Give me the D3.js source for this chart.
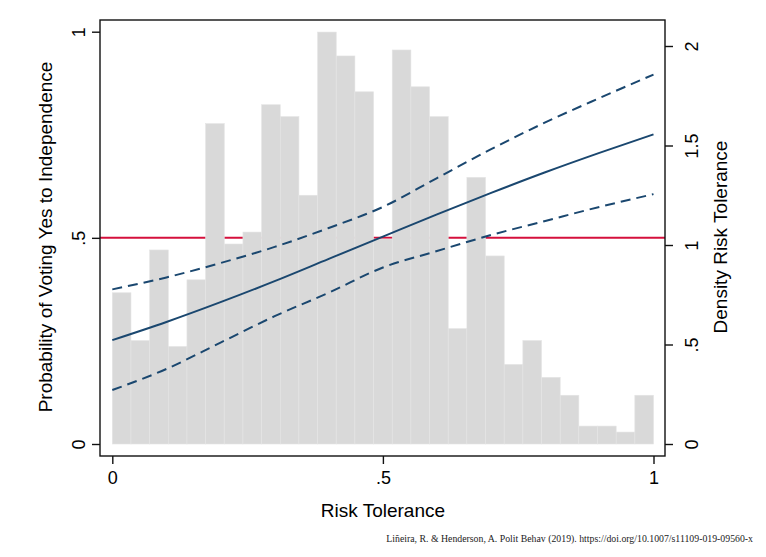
<!DOCTYPE html>
<html>
<head>
<meta charset="utf-8">
<script src="https://cdn.jsdelivr.net/npm/d3@7"></script>
<style>
  body { margin: 0; background: #fff; }
  svg { display: block; font-family: "Liberation Sans", Arial, sans-serif; }
</style>
</head>
<body>
<svg id="chart" width="766" height="557"></svg>
<script>
// histogram of risk tolerance (29 bins on 0..1), density
const density = [0.76, 0.52, 0.975, 0.49, 0.825, 1.61, 1.005, 1.065, 1.705, 1.645,
  1.25, 2.07, 1.95, 1.77, 1.03, 1.98, 1.795, 1.645, 0.58, 1.34,
  0.945, 0.40, 0.52, 0.335, 0.245, 0.09, 0.09, 0.06, 0.245];

// predicted probability with 95% CI
const riskX = [0, 0.1, 0.2, 0.3, 0.4, 0.5, 0.6, 0.7, 0.8, 0.9, 1];
const probFit = [0.252, 0.296, 0.344, 0.395, 0.449, 0.503, 0.557, 0.609, 0.659, 0.706, 0.751];
const probUpper = [0.375, 0.404, 0.439, 0.478, 0.524, 0.575, 0.645, 0.715, 0.780, 0.839, 0.896];
const probLower = [0.131, 0.182, 0.246, 0.310, 0.367, 0.428, 0.468, 0.507, 0.541, 0.575, 0.606];

const xTicks = [0, 0.5, 1];
const probTicks = [0, 0.5, 1];
const densTicks = [0, 0.5, 1, 1.5, 2];
const fmt = d => d === 0 ? "0" : (d < 1 ? String(d).replace("0.", ".") : String(d));

const svg = document.querySelector("#chart");
const g = d3.select(svg);

const x = d3.scaleLinear().domain([0, 1]).range([112.3, 653.5]);
const yProb = d3.scaleLinear().domain([0, 1]).range([444, 31.7]);
const yDens = d3.scaleLinear().domain([0, 2]).range([444, 46]);

const navy = "#1a476f";

// 0.5 reference line
g.append("line").attr("x1", 100).attr("x2", 665)
  .attr("y1", yProb(0.5)).attr("y2", yProb(0.5))
  .attr("stroke", "#d5103c").attr("stroke-width", 2);

// histogram
const nBins = density.length;
g.append("g").selectAll("rect").data(density).join("rect")
  .attr("x", (d, i) => x(i / nBins))
  .attr("width", (d, i) => x((i + 1) / nBins) - x(i / nBins))
  .attr("y", d => yDens(d))
  .attr("height", d => yDens(0) - yDens(d))
  .attr("fill", "#d9d9d9")
  .attr("stroke", "#e4e4e4").attr("stroke-width", 0.6);

// fitted line and CI
const line = d3.line().x((d, i) => x(riskX[i])).y(d => yProb(d)).curve(d3.curveMonotoneX);
g.append("path").attr("d", line(probUpper)).attr("fill", "none")
  .attr("stroke", navy).attr("stroke-width", 2).attr("stroke-dasharray", "10,6");
g.append("path").attr("d", line(probLower)).attr("fill", "none")
  .attr("stroke", navy).attr("stroke-width", 2).attr("stroke-dasharray", "10,6");
g.append("path").attr("d", line(probFit)).attr("fill", "none")
  .attr("stroke", navy).attr("stroke-width", 2);

// frame
g.append("rect").attr("x", 100).attr("y", 20).attr("width", 565).attr("height", 436)
  .attr("fill", "none").attr("stroke", "#111").attr("stroke-width", 1.4);

// axes
const left = g.append("g").attr("transform", "translate(100,0)")
  .call(d3.axisLeft(yProb).tickValues(probTicks).tickFormat(fmt).tickSize(8));
const right = g.append("g").attr("transform", "translate(665,0)")
  .call(d3.axisRight(yDens).tickValues(densTicks).tickFormat(fmt).tickSize(8));
const bottom = g.append("g").attr("transform", "translate(0,456)")
  .call(d3.axisBottom(x).tickValues(xTicks).tickFormat(fmt).tickSize(8));

[left, right, bottom].forEach(a => {
  a.select(".domain").remove();
  a.selectAll("line").attr("stroke", "#111").attr("stroke-width", 1.4);
  a.selectAll("text").attr("font-size", 18).attr("fill", "#000")
    .attr("font-family", "Liberation Sans, Arial, sans-serif");
});
left.selectAll("text").attr("x", null).attr("dy", null).attr("text-anchor", "middle")
  .attr("transform", "translate(-15,0) rotate(-90)");
right.selectAll("text").attr("x", null).attr("dy", null).attr("text-anchor", "middle")
  .attr("transform", "translate(33,0) rotate(-90)");
bottom.selectAll("text").attr("y", 28).attr("dy", null);

// titles
g.append("text").attr("transform", "translate(52,237) rotate(-90)")
  .attr("text-anchor", "middle").attr("font-size", 19)
  .text("Probability of Voting Yes to Independence");
g.append("text").attr("transform", "translate(727,237) rotate(-90)")
  .attr("text-anchor", "middle").attr("font-size", 19)
  .text("Density Risk Tolerance");
g.append("text").attr("x", x(0.5)).attr("y", 517)
  .attr("text-anchor", "middle").attr("font-size", 19)
  .text("Risk Tolerance");

// source note
g.append("text").attr("x", 753).attr("y", 542).attr("text-anchor", "end")
  .attr("font-family", "Liberation Serif, Times New Roman, serif").attr("font-size", 9.8)
  .attr("fill", "#222")
  .text("Liñeira, R. & Henderson, A. Polit Behav (2019). https://doi.org/10.1007/s11109-019-09560-x");
</script>
</body>
</html>
